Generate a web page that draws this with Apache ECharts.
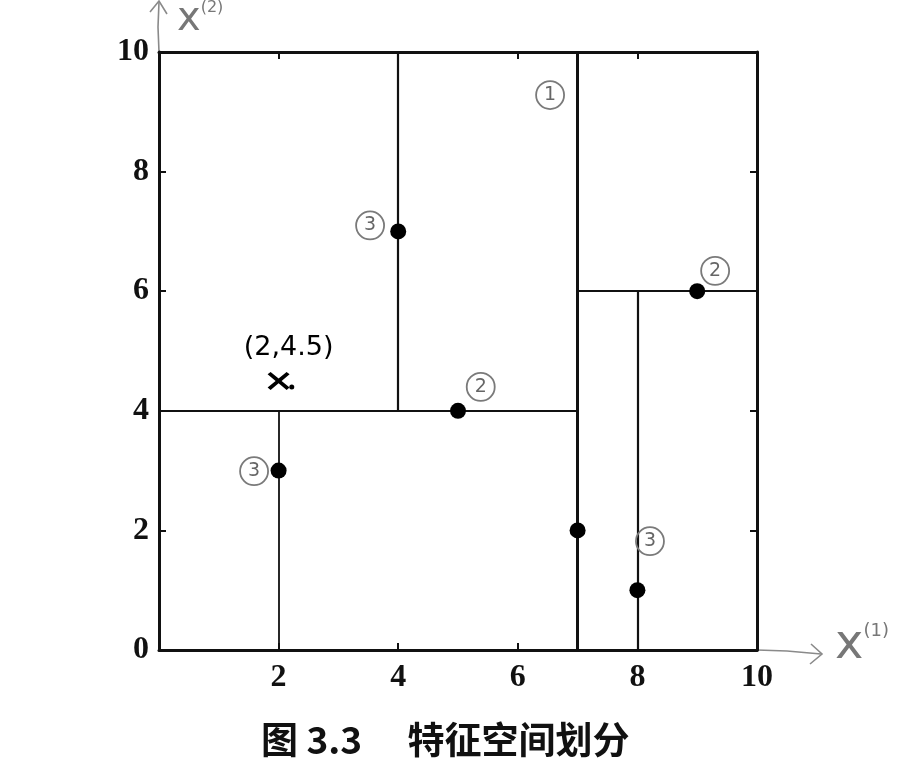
<!DOCTYPE html>
<html><head><meta charset="utf-8">
<script src="https://cdn.jsdelivr.net/npm/echarts@6/dist/echarts.min.js"></script>
<style>html,body{margin:0;padding:0;background:#fff}#c{width:920px;height:772px}</style>
</head><body><div id="c"></div><script>
// ---- data ----
const axisMin = 0, axisMax = 10, tickStep = 2;
const points = [[2,3],[5,4],[9,6],[4,7],[8,1],[7,2]];
const splitSegments = [
  [[7,0],[7,10]],
  [[0,4],[7,4]],
  [[7,6],[10,6]],
  [[2,0],[2,4]],
  [[4,4],[4,10]],
  [[8,0],[8,6]]
];
const splitWidths = [3,2.2,2.2,1.8,2.2,2.2];
const noteLabels = ['1','3','2','2','3','3'];
const notePos = [[6.54,9.28],[3.53,7.1],[5.38,4.4],[9.3,6.34],[1.59,2.99],[8.21,1.82]];
const queryPoint = [2,4.5];
const queryDot = [2.22,4.4];
const queryText = '(2,4.5)';
const caption = '图 3.3　 特征空间划分';

const chart = echarts.init(document.getElementById('c'));
const serifFont = '"Liberation Serif","DejaVu Serif",serif';
const tickCommon = {show:true, inside:true, length:7, lineStyle:{color:'#111', width:2}};
const axisCommon = {
  type:'value', min:axisMin, max:axisMax, interval:tickStep,
  splitLine:{show:false},
  axisLine:{show:true, onZero:false, lineStyle:{color:'#111', width:3}},
  axisTick:tickCommon
};
chart.setOption({
  animation:false,
  backgroundColor:'#fff',
  grid:{left:159, top:52, right:163, bottom:122, containLabel:false},
  xAxis:[
    Object.assign({}, axisCommon, {position:'bottom',
      axisLabel:{color:'#111', fontFamily:serifFont, fontSize:32, fontWeight:'bold', margin:12,
        formatter:v => v === 0 ? '' : String(v)}}),
    Object.assign({}, axisCommon, {position:'top', axisLabel:{show:false}})
  ],
  yAxis:[
    Object.assign({}, axisCommon, {position:'left',
      axisLabel:{color:'#111', fontFamily:serifFont, fontSize:32, fontWeight:'bold', margin:10}}),
    Object.assign({}, axisCommon, {position:'right', axisLabel:{show:false}})
  ],
  title:{text:caption, left:256, top:716,
    textStyle:{fontFamily:'"Noto Sans CJK SC"', fontSize:37, fontWeight:'bold', color:'#111'}},
  series:[
    {
      type:'lines', coordinateSystem:'cartesian2d', silent:true, z:3,
      data: splitSegments.map((s,i) => ({coords:s, lineStyle:{width:splitWidths[i]}})),
      lineStyle:{color:'#111', width:2, opacity:1}
    },
    {
      type:'scatter', data:points, symbol:'circle', symbolSize:16, z:5,
      itemStyle:{color:'#000', opacity:1}
    },
    {
      type:'scatter', z:4,
      data: notePos.map((p,i) => ({value:p, label:{formatter:noteLabels[i]}})),
      symbol:'circle', symbolSize:28,
      itemStyle:{color:'rgba(0,0,0,0)', borderColor:'#7a7a7a', borderWidth:1.8, opacity:1},
      label:{show:true, position:'inside', color:'#666', fontSize:19, fontFamily:'"DejaVu Sans"'}
    },
    {
      type:'scatter', z:6,
      data:[{value:queryPoint}],
      symbol:'path://M0,3 L3,0 L11,8 L19,0 L22,3 L14,11 L22,19 L19,22 L11,14 L3,22 L0,19 L8,11 Z',
      symbolSize:[22,18],
      itemStyle:{color:'#000', opacity:1},
      label:{show:true, formatter:queryText, position:'inside', offset:[10,-33],
        color:'#000', fontSize:27, fontFamily:'"DejaVu Sans"'}
    },
    {
      type:'scatter', z:6, data:[queryDot], symbol:'circle', symbolSize:5,
      itemStyle:{color:'#000', opacity:1}
    }
  ]
});

// decorative hand-drawn axis arrows, anchored to the axis ends
const pEndX = chart.convertToPixel({xAxisIndex:0, yAxisIndex:0}, [axisMax, axisMin]);
const pEndY = chart.convertToPixel({xAxisIndex:0, yAxisIndex:0}, [axisMin, axisMax]);
const gray = '#8a8a8a';
chart.setOption({
  graphic:[
    {type:'polyline', shape:{points:[[pEndX[0],pEndX[1]],[pEndX[0]+30,pEndX[1]+1],[pEndX[0]+64,pEndX[1]+4]]},
      style:{stroke:gray, lineWidth:1.6, fill:null}},
    {type:'polyline', shape:{points:[[pEndX[0]+54,pEndX[1]-6],[pEndX[0]+65,pEndX[1]+4],[pEndX[0]+53,pEndX[1]+14]]},
      style:{stroke:gray, lineWidth:1.6, fill:null}},
    {type:'text', left:pEndX[0]+78, top:pEndX[1]-28,
      style:{text:'{a|x}{b|(1)}', rich:{a:{fontSize:48, fontFamily:'"DejaVu Sans"', fill:'#777'},
        b:{fontSize:18, fontFamily:'"DejaVu Sans"', fill:'#777', verticalAlign:'top', padding:[0,0,26,0]}}}},
    {type:'polyline', shape:{points:[[pEndY[0],pEndY[1]],[pEndY[0]-1,pEndY[1]-25],[pEndY[0],pEndY[1]-50]]},
      style:{stroke:gray, lineWidth:1.6, fill:null}},
    {type:'polyline', shape:{points:[[pEndY[0]-9,pEndY[1]-40],[pEndY[0],pEndY[1]-51],[pEndY[0]+8,pEndY[1]-38]]},
      style:{stroke:gray, lineWidth:1.6, fill:null}},
    {type:'text', left:pEndY[0]+18, top:pEndY[1]-52,
      style:{text:'{a|x}{b|(2)}', rich:{a:{fontSize:40, fontFamily:'"DejaVu Sans"', fill:'#777'},
        b:{fontSize:16, fontFamily:'"DejaVu Sans"', fill:'#777', verticalAlign:'top', padding:[0,0,22,0]}}}}
  ]
});
</script></body></html>
